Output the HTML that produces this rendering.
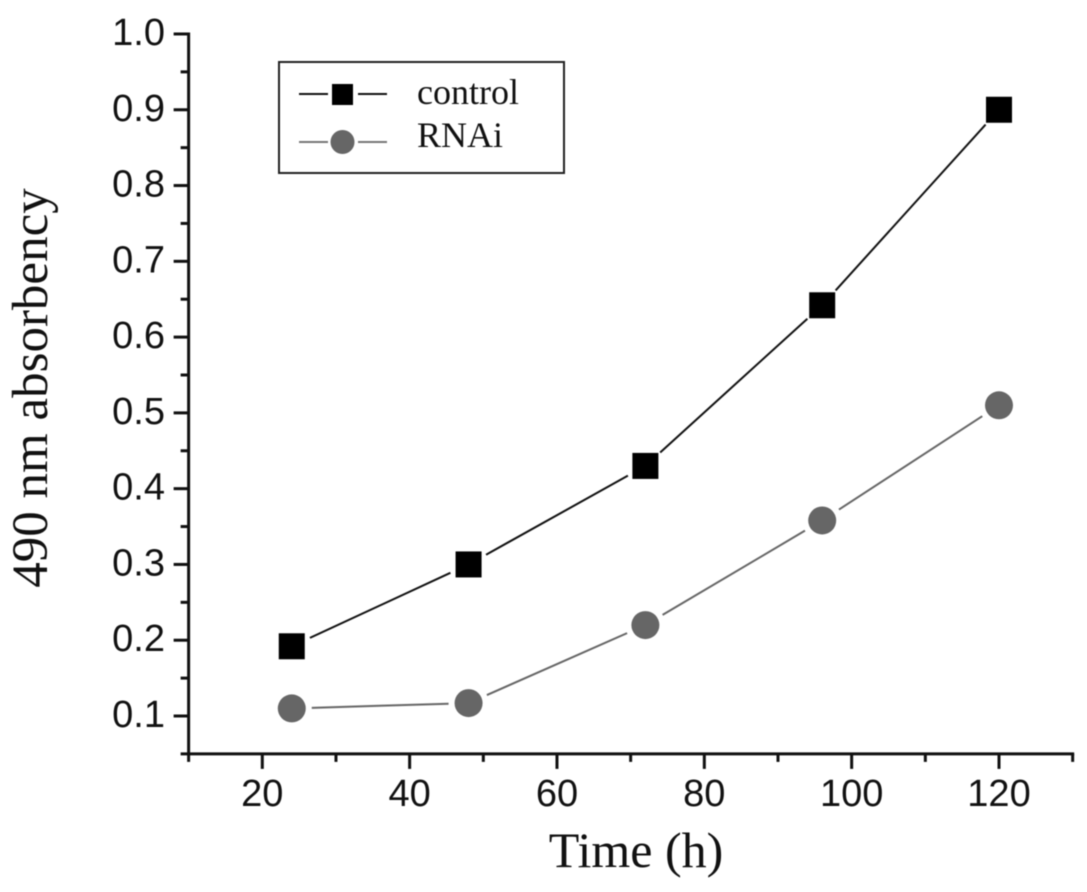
<!DOCTYPE html>
<html>
<head>
<meta charset="utf-8">
<title>490 nm absorbency over time</title>
<style>
html,body{margin:0;padding:0;background:#fff;}
svg{display:block;filter:blur(0.4px);}
text{fill:#111;}
.tick{font-family:"Liberation Sans",sans-serif;font-size:38px;}
.title{font-family:"Liberation Serif",serif;font-size:50px;}
.legend-text{font-family:"Liberation Serif",serif;font-size:36px;}
</style>
</head>
<body>
<svg id="chart" width="1087" height="892" viewBox="0 0 1087 892" xmlns="http://www.w3.org/2000/svg">
  <rect x="0" y="0" width="1087" height="892" fill="#fff"/>
  <g id="axes"></g>
  <g id="series"></g>
  <text class="title" x="636" y="867" text-anchor="middle">Time (h)</text>
  <text class="title" x="0" y="0" text-anchor="middle" transform="translate(47 388) rotate(-90)" style="font-size:51px">490 nm absorbency</text>
  <g>
    <rect x="279" y="62" width="285" height="111" fill="#fff" stroke="#222" stroke-width="2"/>
    <g>
      <line x1="299" y1="94" x2="328" y2="94" stroke="#111" stroke-width="2"/>
      <line x1="358" y1="94" x2="387" y2="94" stroke="#111" stroke-width="2"/>
      <rect x="332" y="84" width="21" height="21" fill="#000"/>
      <text class="legend-text" x="417" y="104">control</text>
    </g>
    <g>
      <line x1="299" y1="142" x2="328" y2="142" stroke="#777" stroke-width="2"/>
      <line x1="358" y1="142" x2="387" y2="142" stroke="#777" stroke-width="2"/>
      <circle cx="342.500" cy="142" r="12" fill="#666"/>
      <text class="legend-text" x="417" y="147">RNAi</text>
    </g>
  </g>
</svg>
<script>
const timePoints = [24, 48, 72, 96, 120];
const controlValues = [0.192, 0.3, 0.43, 0.642, 0.9];
const rnaiValues = [0.11, 0.117, 0.22, 0.358, 0.51];
const xTickLabels = [20, 40, 60, 80, 100, 120];
const xMinorTicks = [10, 30, 50, 70, 90, 110, 130];
const yTickLabels = ['0.1', '0.2', '0.3', '0.4', '0.5', '0.6', '0.7', '0.8', '0.9', '1.0'];
const yMinorTicks = [0.05, 0.15, 0.25, 0.35, 0.45, 0.55, 0.65, 0.75, 0.85, 0.95];

const NS = 'http://www.w3.org/2000/svg';
const axesGroup = document.getElementById('axes');
const seriesGroup = document.getElementById('series');

function xScale(v) { return 262.3 + (v - 20) * 7.367; }
function yScale(v) { return 716 - (v - 0.1) * 757.8; }

function make(tag, attrs, parent) {
  const el = document.createElementNS(NS, tag);
  Object.keys(attrs).forEach(function (k) { el.setAttribute(k, attrs[k]); });
  parent.appendChild(el);
  return el;
}

const xAxisLine = make('line', {x1: xScale(10), y1: yScale(0.05), x2: xScale(130), y2: yScale(0.05), stroke: '#111', 'stroke-width': 3, 'stroke-linecap': 'square'}, axesGroup);


const yAxisLine = make('line', {x1: xScale(10), y1: yScale(0.05), x2: xScale(10), y2: yScale(1), stroke: '#111', 'stroke-width': 3, 'stroke-linecap': 'square'}, axesGroup);



xTickLabels.forEach(function (v) {
  const x = xScale(v);
  const tick = make('line', {x1: x, y1: yScale(0.05), x2: x, y2: yScale(0.05) + 15, stroke: '#111', 'stroke-width': 3}, axesGroup);
  
  
  const label = make('text', {x: x, y: 806, 'text-anchor': 'middle', 'class': 'tick'}, axesGroup);
  label.textContent = String(v);
  
  
});

xMinorTicks.forEach(function (v) {
  const x = xScale(v);
  const tick = make('line', {x1: x, y1: yScale(0.05), x2: x, y2: yScale(0.05) + 8, stroke: '#111', 'stroke-width': 3}, axesGroup);
  
  
});

yTickLabels.forEach(function (t) {
  const y = yScale(parseFloat(t));
  const tick = make('line', {x1: xScale(10) - 15, y1: y, x2: xScale(10), y2: y, stroke: '#111', 'stroke-width': 3}, axesGroup);
  
  
  const label = make('text', {x: 165, y: y + 11, 'text-anchor': 'end', 'class': 'tick'}, axesGroup);
  label.textContent = t;
  
  
});

yMinorTicks.forEach(function (v) {
  const y = yScale(v);
  const tick = make('line', {x1: xScale(10) - 8, y1: y, x2: xScale(10), y2: y, stroke: '#111', 'stroke-width': 3}, axesGroup);
  
  
});

function drawSegments(values, color, gap, name) {
  for (let i = 0; i < values.length - 1; i++) {
    const x0 = xScale(timePoints[i]), y0 = yScale(values[i]);
    const x1 = xScale(timePoints[i + 1]), y1 = yScale(values[i + 1]);
    const len = Math.hypot(x1 - x0, y1 - y0);
    const ux = (x1 - x0) / len, uy = (y1 - y0) / len;
    const seg = make('line', {x1: x0 + ux * gap, y1: y0 + uy * gap, x2: x1 - ux * gap, y2: y1 - uy * gap, stroke: color, 'stroke-width': 2}, seriesGroup);
    
    
  }
}

drawSegments(controlValues, '#111', 20, 'control-line-segment');
drawSegments(rnaiValues, '#666', 20, 'rnai-line-segment');

controlValues.forEach(function (v, i) {
  const mark = make('rect', {x: xScale(timePoints[i]) - 13, y: yScale(v) - 13, width: 26, height: 26, fill: '#000'}, seriesGroup);
  
  
});

rnaiValues.forEach(function (v, i) {
  const mark = make('circle', {cx: xScale(timePoints[i]), cy: yScale(v), r: 14, fill: '#666'}, seriesGroup);
  
  
});
</script>
</body>
</html>
